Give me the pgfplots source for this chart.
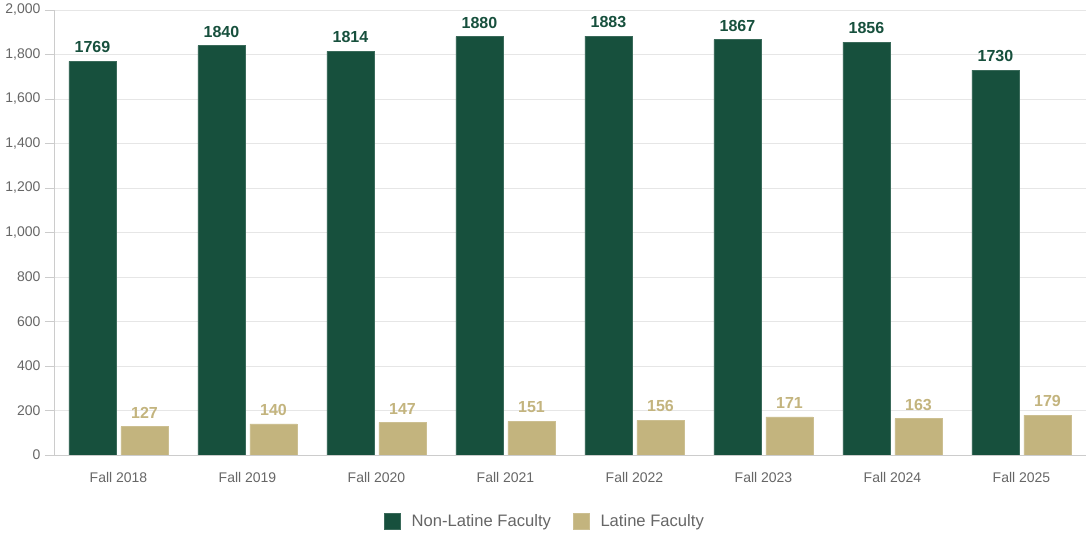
\documentclass[border=0pt]{standalone}
\usepackage{fontspec}
\setmainfont{Liberation Sans}
\usepackage{pgfplots}
\pgfplotsset{compat=1.18}

\definecolor{nonlat}{HTML}{17503D}
\definecolor{lat}{HTML}{C3B47E}
\definecolor{ticktxt}{HTML}{666666}
\definecolor{gridc}{HTML}{E6E6E6}
\definecolor{axisc}{HTML}{CCCCCC}

\begin{document}
\begin{tikzpicture}
\useasboundingbox (0,0) rectangle (1090pt,533pt);
\begin{axis}[
  at={(54pt,78pt)}, anchor=south west,
  scale only axis,
  width=1032pt, height=445pt,
  ybar=5pt, bar width=47pt,
  xmin=-0.5, xmax=7.5,
  ymin=0, ymax=2000,
  xtick={0,...,7},
  xticklabels={Fall 2018,Fall 2019,Fall 2020,Fall 2021,Fall 2022,Fall 2023,Fall 2024,Fall 2025},
  ytick={0,200,...,2000},
  /pgf/number format/assume math mode=true,
  /pgf/number format/1000 sep={,},
  ymajorgrids, grid style={gridc, line width=0.8pt},
  axis x line*=bottom, axis y line*=left,
  axis line style={axisc, line width=0.8pt},
  x axis line style={-}, y axis line style={-},
  xtick style={draw=none},
  ytick style={axisc, line width=0.8pt},
  ytick align=outside, major tick length=9pt,
  tick label style={font=\fontsize{14}{16}\selectfont, text=ticktxt},
  yticklabel style={xshift=-1pt},
  xticklabel style={yshift=-5pt},
  nodes near coords,
  every node near coord/.append style={font=\fontsize{16}{18}\selectfont\bfseries,
    /pgf/number format/1000 sep={}, anchor=south, inner sep=0pt, yshift=8pt},
  legend columns=2,
  legend style={at={(0.4758,-0.1483)}, anchor=center, draw=none, fill=none,
    font=\fontsize{16.6}{18}\selectfont, text=ticktxt,
    /tikz/every even column/.append style={column sep=20pt},
    /tikz/every odd column/.append style={column sep=9pt}},
  legend image code/.code={\fill[#1] (0pt,-8pt) rectangle (16pt,8pt);},
]
\addplot[fill=nonlat, draw=nonlat!85!white, line width=0.5pt, text=nonlat]
  coordinates {(0,1769) (1,1840) (2,1814) (3,1880) (4,1883) (5,1867) (6,1856) (7,1730)};
\addplot[fill=lat, draw=lat!85!white, line width=0.5pt, text=lat]
  coordinates {(0,127) (1,140) (2,147) (3,151) (4,156) (5,171) (6,163) (7,179)};
\legend{Non-Latine Faculty, Latine Faculty}
\end{axis}
\end{tikzpicture}
\end{document}
